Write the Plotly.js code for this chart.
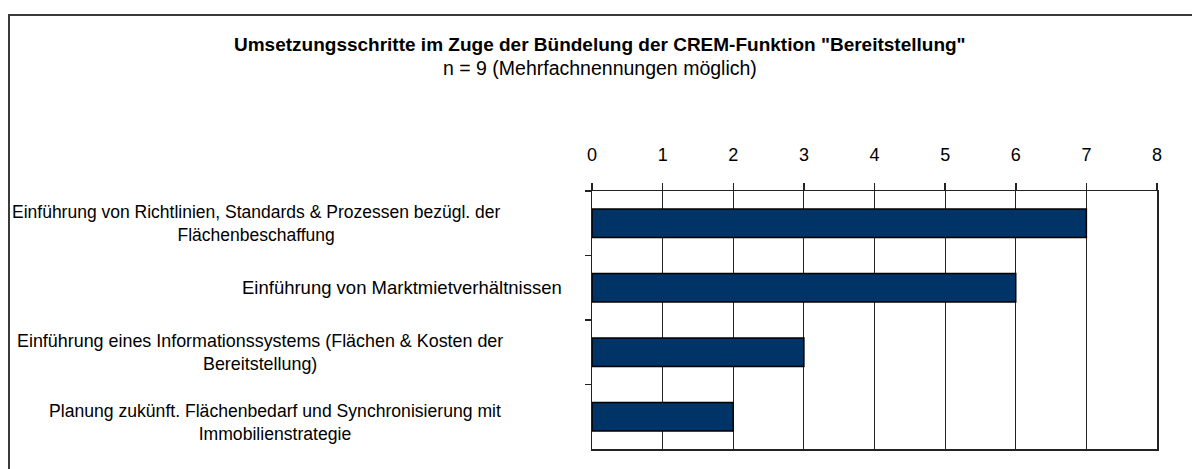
<!DOCTYPE html>
<html>
<head>
<meta charset="utf-8">
<script src="https://cdn.plot.ly/plotly-3.0.1.min.js"></script>
<style>
html,body{margin:0;padding:0;background:#fff;overflow:hidden;}
#chart{width:1192px;height:469px;}
</style>
</head>
<body>
<div id="chart"></div>
<script>
const categories = [
  "Einführung von Richtlinien, Standards & Prozessen bezügl. der<br>Flächenbeschaffung",
  "Einführung von Marktmietverhältnissen",
  "Einführung eines Informationssystems (Flächen & Kosten der<br>Bereitstellung)",
  "Planung zukünft. Flächenbedarf und Synchronisierung mit<br>Immobilienstrategie"
];
const values = [7, 6, 3, 2];
const xTicks = [0, 1, 2, 3, 4, 5, 6, 7, 8];
const titleText = "Umsetzungsschritte im Zuge der Bündelung der CREM-Funktion \"Bereitstellung\"";
const subtitleText = "n = 9 (Mehrfachnennungen möglich)";

const labelCenters = [256, 402, 260, 275];
const labelYShift = [0, 0, 0, -6];
const labelSizes = [17.5, 18.5, 17.9, 17.6];
const FONT = "Liberation Sans, Arial, sans-serif";
const L = 592, T = 191, PW = 565, PH = 258;
const px = v => (v - L) / PW;
const py = v => (T + PH - v) / PH;

const trace = {
  type: "bar",
  orientation: "h",
  x: values,
  y: categories,
  marker: {color: "#003366", line: {color: "#000000", width: 1.5}},
  hoverinfo: "none"
};

const annotations = categories.map((c, i) => ({
  xref: "paper", yref: "y", x: 0, y: c,
  xanchor: "center", yanchor: "middle", align: "center",
  xshift: labelCenters[i] - L, yshift: labelYShift[i],
  text: c, showarrow: false,
  font: {family: FONT, size: labelSizes[i], color: "#000"}
}));
annotations.push({
  xref: "paper", yref: "paper", x: 0, y: 1, xanchor: "center", yanchor: "middle",
  xshift: 600 - L, yshift: T - 44, showarrow: false,
  text: "<b>" + titleText + "</b>", font: {family: FONT, size: 19, color: "#000"}
});
annotations.push({
  xref: "paper", yref: "paper", x: 0, y: 1, xanchor: "center", yanchor: "middle",
  xshift: 600 - L, yshift: T - 68, showarrow: false,
  text: subtitleText, font: {family: FONT, size: 19.5, color: "#000"}
});

const layout = {
  width: 1192, height: 469,
  margin: {l: L, r: 1192 - L - PW, t: T, b: 469 - T - PH, pad: 0},
  paper_bgcolor: "#fff", plot_bgcolor: "#fff",
  showlegend: false,
  bargap: 0.56,
  font: {family: FONT, size: 18, color: "#000"},
  xaxis: {
    side: "top", range: [0, 8], tickvals: xTicks, ticktext: xTicks.map(String),
    showgrid: true, gridcolor: "#222", gridwidth: 1,
    showline: true, linecolor: "#222", linewidth: 1.5, mirror: true,
    ticks: "outside", ticklen: 7, tickcolor: "#222", tickwidth: 1.5,
    ticklabelstandoff: 14, zeroline: false, fixedrange: true,
    tickfont: {family: FONT, size: 18, color: "#000"}
  },
  yaxis: {
    type: "category", autorange: "reversed", categoryorder: "array", categoryarray: categories,
    showticklabels: false, tickson: "boundaries", ticks: "outside", ticklen: 6,
    tickcolor: "#222", tickwidth: 1.5,
    showline: true, linecolor: "#222", linewidth: 1.5, mirror: true,
    showgrid: false, zeroline: false, fixedrange: true
  },
  shapes: [{
    type: "path", xref: "paper", yref: "paper",
    path: "M " + px(9) + " " + py(480) + " L " + px(9) + " " + py(15) + " L " + px(1250) + " " + py(15),
    line: {color: "#3a3a3a", width: 2}
  }],
  annotations: annotations
};

Plotly.newPlot("chart", [trace], layout, {displayModeBar: false, staticPlot: true});
</script>
</body>
</html>
